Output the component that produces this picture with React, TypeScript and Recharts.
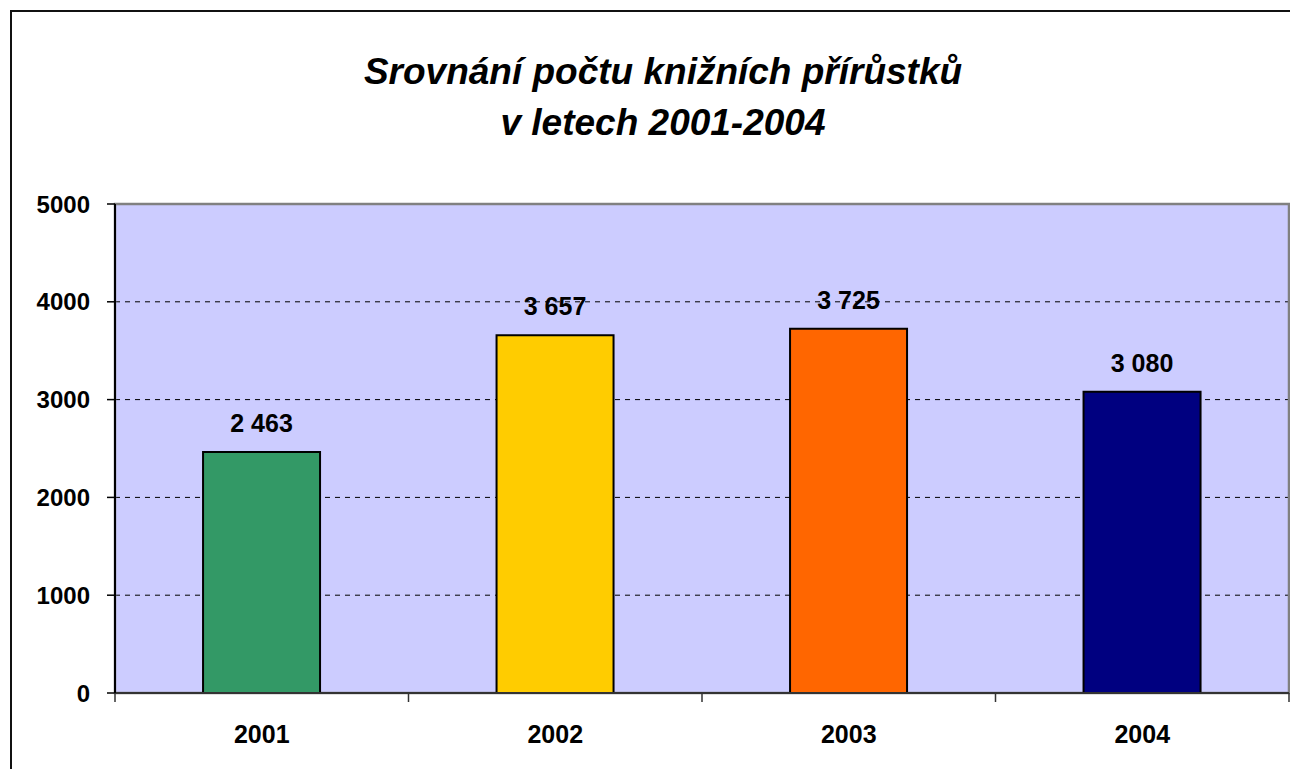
import React from 'react';
import { BarChart, Bar, XAxis, YAxis, CartesianGrid, Cell, LabelList, ReferenceArea } from 'recharts';

const years = ['2001', '2002', '2003', '2004'];
const values = [2463, 3657, 3725, 3080];
const colors = ['#339966', '#FFCC00', '#FF6600', '#000080'];
const yTicks = [0, 1000, 2000, 3000, 4000, 5000];
const gridValues = [1000, 2000, 3000, 4000];
const titleLines = ['Srovnání počtu knižních přírůstků', 'v letech 2001-2004'];

const data = years.map((y, i) => ({ year: y, value: values[i] }));

const W = 1290;
const H = 761;
const M = { top: 196, right: 9, left: 0, bottom: 0 };
const Y_W = 107;
const X_H = 76;
const HALF_BAND = (W - Y_W - M.right) / years.length / 2;
const FONT = '"Liberation Sans", Arial, sans-serif';

const fmt = (v: any) => String(v).replace(/\B(?=(\d{3})+(?!\d))/g, ' ');

const XTick = (props: any) => {
  const { x, y, payload, index } = props;
  return (
    <g>
      <line x1={x - HALF_BAND} x2={x - HALF_BAND} y1={y} y2={y + 9} stroke="#333" strokeWidth={1.5} />
      {index === years.length - 1 && (
        <line x1={x + HALF_BAND} x2={x + HALF_BAND} y1={y} y2={y + 9} stroke="#333" strokeWidth={1.5} />
      )}
      <text x={x} y={y + 50} textAnchor="middle" fontFamily={FONT} fontWeight="bold" fontSize={25} fill="#000">
        {payload.value}
      </text>
    </g>
  );
};

export default function App() {
  return (
    <div style={{ position: 'relative', width: W, height: H, overflow: 'hidden', background: '#fff' }}>
      <div
        style={{
          position: 'absolute',
          left: 2,
          top: 2,
          width: W + 20,
          height: H + 20,
          border: '2px solid #111',
          boxSizing: 'border-box',
        }}
      />
      {titleLines.map((t, i) => (
        <div
          key={i}
          style={{
            position: 'absolute',
            left: 0,
            width: W,
            top: i === 0 ? 44 : 95,
            textAlign: 'center',
            fontFamily: FONT,
            fontStyle: 'italic',
            fontWeight: 'bold',
            fontSize: 37,
            lineHeight: '40px',
            color: '#000',
            paddingLeft: 20,
            boxSizing: 'border-box',
            whiteSpace: 'nowrap',
          }}
        >
          {t}
        </div>
      ))}
      <div style={{ position: 'absolute', left: 0, top: 0 }}>
        <BarChart width={W} height={H} data={data} margin={M} barCategoryGap="30%">
          <CartesianGrid
            vertical={false}
            horizontalValues={gridValues}
            fill="#CCCCFF"
            stroke="#000"
            strokeDasharray="5 5"
            fillOpacity={1}
          />
          <ReferenceArea y1={0} y2={5000} fill="none" stroke="#808080" strokeWidth={2.5} ifOverflow="visible" />
          <XAxis
            dataKey="year"
            height={X_H}
            tickSize={0}
            tickMargin={0}
            tickLine={false}
            axisLine={{ stroke: '#333', strokeWidth: 2 }}
            tick={<XTick />}
            interval={0}
          />
          <YAxis
            width={Y_W}
            domain={[0, 5000]}
            ticks={yTicks}
            interval={0}
            tickSize={8}
            tickMargin={17}
            axisLine={{ stroke: '#000', strokeWidth: 2 }}
            tickLine={{ stroke: '#000', strokeWidth: 1.5 }}
            tick={{ fontFamily: FONT, fontWeight: 'bold', fontSize: 24, fill: '#000' }}
          />
          <Bar dataKey="value" isAnimationActive={false} stroke="#000" strokeWidth={2}>
            {data.map((d, i) => (
              <Cell key={d.year} fill={colors[i]} />
            ))}
            <LabelList
              dataKey="value"
              position="top"
              offset={20}
              formatter={fmt}
              style={{ fontFamily: FONT, fontWeight: 'bold', fontSize: 25, fill: '#000' }}
            />
          </Bar>
        </BarChart>
      </div>
    </div>
  );
}
